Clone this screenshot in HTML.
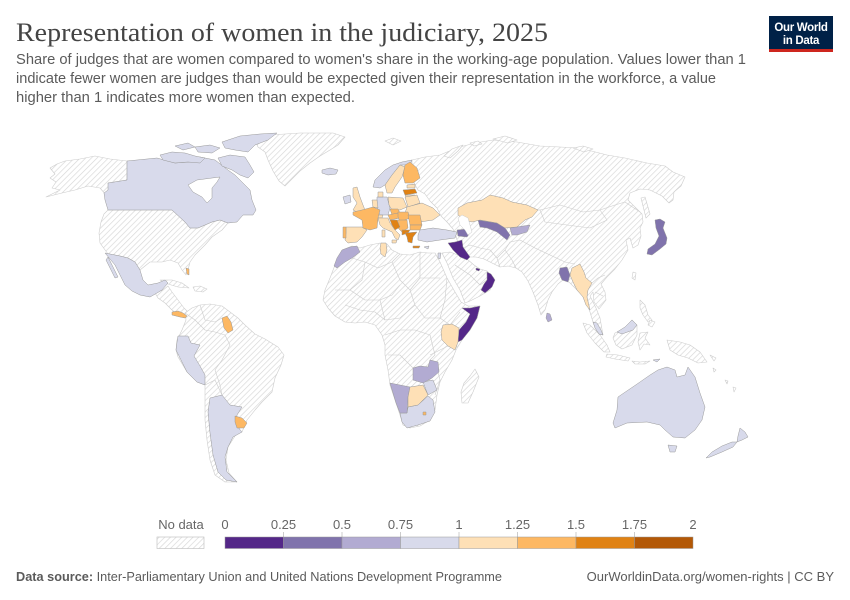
<!DOCTYPE html>
<html>
<head>
<meta charset="utf-8">
<style>
html,body{margin:0;padding:0;background:#fff;}
svg{display:block;}
.t{font-family:"Liberation Sans",sans-serif;}
</style>
</head>
<body>
<svg width="850" height="600" viewBox="0 0 850 600" xmlns="http://www.w3.org/2000/svg">
<defs>
<pattern id="h" width="4" height="4" patternUnits="userSpaceOnUse" patternTransform="rotate(45)">
<rect width="4" height="4" fill="#fff"/>
<line x1="0" y1="0" x2="0" y2="4" stroke="#d6d6d6" stroke-width="1.3"/>
</pattern>
</defs>

<!-- Title -->
<text x="16" y="41" font-family="'Liberation Serif',serif" font-size="26" fill="#444" textLength="532" lengthAdjust="spacingAndGlyphs">Representation of women in the judiciary, 2025</text>
<g class="t" font-size="14.5" fill="#5b5b5b">
<text x="16" y="64" textLength="730" lengthAdjust="spacingAndGlyphs">Share of judges that are women compared to women's share in the working-age population. Values lower than 1</text>
<text x="16" y="83" textLength="700" lengthAdjust="spacingAndGlyphs">indicate fewer women are judges than would be expected given their representation in the workforce, a value</text>
<text x="16" y="102" textLength="339" lengthAdjust="spacingAndGlyphs">higher than 1 indicates more women than expected.</text>
</g>

<!-- Logo -->
<rect x="769" y="16" width="64" height="36" fill="#002147"/>
<rect x="769" y="49" width="64" height="3" fill="#ce261e"/>
<text x="801" y="31" text-anchor="middle" class="t" font-size="11.5" font-weight="bold" fill="#fff" letter-spacing="-0.3">Our World</text>
<text x="801" y="44" text-anchor="middle" class="t" font-size="11.5" font-weight="bold" fill="#fff" letter-spacing="-0.3">in Data</text>

<!-- MAP -->
<g stroke-linejoin="round">
<!-- No data base shapes -->
<g fill="url(#h)" stroke="#cdcdcd" stroke-width="0.6">
<!-- Alaska -->
<path d="M127,161 L110,159 95,156 80,159 65,161 57,164 50,168 55,174 50,178 56,182 52,188 60,190 46,197 62,193 75,190 88,186 100,188 106,195 110,190 108,183 127,180 Z"/>
<!-- Greenland -->
<path d="M255,140 L270,135 300,133 333,133 345,137 338,145 330,150 320,156 310,163 300,171 291,180 285,186 279,181 273,171 268,160 265,152 258,147 Z"/>
<!-- USA -->
<path d="M108,210 L172,210 185,222 190,228 198,228 205,225 212,222 220,220 228,223 222,230 212,237 205,245 200,250 195,255 190,262 188,270 186,275 182,270 178,263 170,260 162,262 150,262 145,266 140,270 135,262 128,258 120,256 108,254 100,243 99,233 101,222 104,214 Z"/>
<!-- Central America -->
<path d="M155,293 L163,290 168,286 172,292 178,300 184,308 190,314 187,318 180,316 172,310 165,303 158,298 Z"/>
<!-- Cuba, Hispaniola -->
<path d="M160,280 L172,280 182,283 189,288 178,287 168,284 Z"/>
<path d="M193,287 L200,286 207,289 203,292 195,291 Z"/>
<!-- South America -->
<path d="M185,313 L192,308 200,305 210,304 222,306 230,312 238,318 245,325 255,334 265,339 278,347 284,355 281,365 275,378 272,392 262,402 255,410 247,420 242,432 237,433 228,447 226,460 229,473 237,482 225,482 215,475 210,460 207,440 205,420 205,400 205,385 197,382 187,372 178,357 176,350 177,340 182,330 186,320 Z"/>
<!-- Africa -->
<path d="M335,265 L342,250 352,246 360,248 370,245 380,243 387,244 392,250 400,254 410,255 420,252 428,253 435,253 440,262 447,278 455,292 461,302 468,306 480,306 477,318 470,330 462,340 456,350 452,360 445,372 440,382 437,395 435,410 430,420 420,426 410,428 403,425 400,415 395,400 390,385 388,370 385,355 385,345 382,335 375,325 365,322 355,323 345,322 335,316 328,308 323,300 325,290 330,278 Z"/>
<!-- Madagascar -->
<path d="M475,369 L479,377 473,392 468,403 462,403 461,392 464,383 470,376 Z"/>
<!-- Arabia -->
<path d="M442,253 L450,252 458,255 467,259 474,265 480,269 487,271 494,278 490,290 480,296 470,301 465,303 460,290 453,278 447,263 Z"/>
<!-- Eurasia (Russia/Asia) -->
<path d="M412,160 L425,157 440,155 447,152 460,147 475,143 493,140 517,142 540,146 560,147 580,148 607,155 625,158 647,163 665,166 673,172 685,177 681,186 674,192 673,200 669,203 662,196 650,190 640,189 630,193 628,200 636,208 642,214 643,222 640,228 641,236 638,245 633,248 630,238 626,240 628,250 622,260 615,269 607,277 601,284 605,292 606,300 599,309 594,302 593,292 590,296 596,308 600,318 603,335 598,334 593,322 590,312 586,302 582,295 576,289 570,283 564,279 558,284 552,292 548,300 545,310 541,315 538,305 533,292 528,281 522,272 516,268 508,266 500,267 492,263 484,259 476,257 470,257 463,248 457,240 456,236 453,229 447,222 441,216 437,208 430,201 425,194 418,190 414,183 417,176 412,168 Z"/>
<!-- Arctic islands -->
<path d="M385,141 L393,138 401,141 393,145 Z"/>
<path d="M444,156 L452,149 463,145 458,151 450,158 Z"/>
<path d="M493,139 L505,136 517,140 508,143 Z"/>
<path d="M573,148 L583,146 593,149 584,152 Z"/>
<path d="M470,143 L478,141 482,144 474,146 Z"/>
<!-- Sakhalin, Taiwan -->
<path d="M641,198 L645,197 650,214 646,218 Z"/>
<path d="M633,272 L636,273 635,280 632,278 Z"/>
<!-- SE Asia islands -->
<path d="M583,323 L590,325 600,335 607,345 610,352 604,352 595,343 587,333 Z"/>
<path d="M607,354 L618,355 630,358 628,361 615,359 606,357 Z"/>
<path d="M615,333 L625,328 632,320 637,325 637,335 632,345 622,349 616,345 613,338 Z"/>
<path d="M640,333 L648,332 645,338 650,345 644,344 640,350 638,342 Z"/>
<path d="M640,300 L645,305 648,315 652,320 648,322 643,315 640,308 Z"/>
<path d="M650,320 L655,322 652,327 648,325 Z"/>
<path d="M667,340 L680,342 690,345 700,352 707,362 698,363 688,358 678,355 670,350 Z"/>
<path d="M632,361 L640,362 650,361 645,364 635,364 Z"/>
<path d="M710,355 L716,358 714,361 Z"/>
<path d="M725,380 L728,381 727,384 Z"/>
<path d="M733,387 L736,388 734,392 Z"/>
<path d="M713,368 L716,370 714,372 Z"/>
</g>

<!-- No data internal borders -->
<g fill="none" stroke="#cdcdcd" stroke-width="0.6">
<path d="M120,256 L108,254"/>
<path d="M200,305 L205,320 215,322 222,318"/>
<path d="M185,313 L195,320 205,330 215,332 225,335 230,345 222,360 215,370 220,385 222,395"/>
<path d="M205,385 L215,380 222,395"/>
<path d="M352,258 L365,262 378,268 392,262 400,254"/>
<path d="M392,262 L400,280 410,290 420,278 420,252"/>
<path d="M420,278 L440,278"/>
<path d="M410,290 L415,305 425,318 440,318 445,300 447,278"/>
<path d="M335,290 L350,290 365,300 380,300 392,295 400,285"/>
<path d="M345,305 L360,310 375,312 385,320 400,318 415,305"/>
<path d="M385,335 L400,330 415,330 430,335 435,355 430,360"/>
<path d="M440,318 L450,325 460,312"/>
<path d="M388,355 L400,355 410,365 413,368"/>
<path d="M430,355 L448,346"/>
<path d="M438,372 L440,380 435,395"/>
<path d="M365,262 L362,280 350,290"/>
<path d="M380,300 L385,320"/>
<path d="M455,265 L470,275 480,285 487,280"/>
<path d="M463,248 L470,245 480,248 490,250 497,258 500,267"/>
<path d="M497,258 L505,250 510,242 520,240"/>
<path d="M505,250 L512,260 516,268"/>
<path d="M520,240 L535,248 550,255 565,262 575,264"/>
<path d="M540,210 L560,205 583,212 600,210 607,220 590,228 567,225 545,222 Z"/>
<path d="M537,210 L540,210"/>
<path d="M600,210 L615,205 625,202 640,212"/>
<path d="M592,283 L598,278 605,275"/>
<path d="M595,292 L603,296"/>
</g>

<!-- Data countries -->
<g stroke="#999" stroke-width="0.5">
<!-- c3 -->
<g fill="#d8daeb">
<path fill-rule="evenodd" d="M127,161 L157,158 175,163 190,162 200,157 215,160 228,170 235,175 240,180 250,190 252,200 256,210 253,215 243,215 237,222 228,223 220,220 212,222 205,225 198,228 190,228 185,222 172,210 108,210 105,200 104,193 108,190 108,183 127,180 Z M188,185 L197,180 212,178 220,177 217,182 212,188 212,198 207,203 202,197 193,192 Z"/>
<path d="M222,142 L240,136 260,134 277,133 268,140 255,145 248,152 235,150 225,148 Z"/>
<path d="M218,158 L230,155 245,157 250,165 254,172 248,178 240,175 232,170 222,166 Z"/>
<path d="M160,155 L172,152 185,153 195,156 205,158 200,163 188,162 175,163 163,160 Z"/>
<path d="M195,147 L210,145 220,148 212,153 198,152 Z"/>
<path d="M175,146 L188,143 195,147 183,150 Z"/>
<path d="M105,253 L120,256 128,258 135,262 140,270 143,280 148,285 158,283 165,280 168,283 162,290 157,293 150,297 140,295 132,291 125,285 120,275 115,265 110,259 Z"/>
<path d="M108,257 L112,265 118,277 115,278 110,268 106,260 Z"/>
<path d="M178,336 L188,336 191,343 200,345 194,356 200,366 205,375 205,385 197,382 187,372 181,360 176,350 177,342 Z"/>
<path d="M210,398 L222,395 230,405 242,407 237,415 236,425 242,432 233,437 228,447 225,457 227,472 237,482 226,480 218,472 213,455 210,433 208,412 Z"/>
<path d="M322,170 L330,168 338,170 336,174 328,175 322,173 Z"/>
<path d="M373,187 L375,180 385,170 393,165 402,162 412,160 410,165 400,165 392,175 385,185 380,188 Z"/>
<path d="M343,197 L350,195 351,202 345,204 Z"/>
<path d="M377,197 L387,197 390,208 388,215 380,215 377,208 Z"/>
<path d="M420,230 L433,228 447,230 457,232 455,238 440,240 427,242 418,240 418,235 Z"/>
<path d="M424,247 L429,246 428,249 Z"/>
<path d="M438,253 L441,253 440,259 438,258 Z"/>
<path d="M423,382 L433,380 437,390 428,395 Z"/>
<path d="M400,413 L407,413 408,407 418,405 428,396 433,400 435,412 430,421 418,425 407,428 402,422 Z"/>
<path d="M593,322 L597,323 601,330 603,335 599,334 595,328 Z"/>
<path d="M617,332 L625,327 632,320 637,325 633,330 622,334 Z"/>
<path d="M618,397 L640,382 650,375 658,370 667,367 675,370 677,377 685,375 688,367 695,377 700,393 705,407 702,420 695,430 685,438 673,437 665,430 660,425 647,422 627,423 615,428 613,423 617,410 Z"/>
<path d="M668,445 L677,446 675,452 670,452 Z"/>
<path d="M740,428 L745,432 748,437 742,440 737,442 738,436 Z"/>
<path d="M737,442 L733,447 722,452 710,457 706,458 712,452 722,446 732,442 Z"/>
<path d="M653,360 L660,359 657,362 Z"/>
</g>
<!-- c2 -->
<g fill="#b2abd2">
<path d="M342,250 L350,247 357,246 360,252 352,258 345,262 337,268 334,266 337,258 Z"/>
<path d="M413,368 L420,366 428,367 430,360 438,362 439,372 432,378 423,383 413,380 Z"/>
<path d="M390,383 L410,387 408,397 407,413 400,413 396,403 393,393 Z"/>
<path d="M510,228 L530,225 527,232 517,235 512,235 Z"/>
<path d="M547,313 L550,314 552,320 548,322 546,318 Z"/>
</g>
<!-- c1 -->
<g fill="#8073ac">
<path d="M457,230 L467,229 470,233 467,237 458,236 Z"/>
<path d="M478,220 L497,223 505,228 510,235 507,240 497,232 487,228 480,227 Z"/>
<path d="M560,268 L567,267 570,275 568,282 562,280 559,273 Z"/>
<path d="M655,220 L660,219 665,222 663,228 667,238 666,244 660,249 652,255 647,254 648,249 655,244 659,236 656,228 Z"/>
</g>
<!-- c0 -->
<g fill="#542788">
<path d="M448,243 L455,242 462,240 463,247 470,257 467,260 460,257 453,250 Z"/>
<path d="M487,272 L491,274 495,280 492,287 485,293 481,290 484,284 487,280 Z"/>
<path d="M476,268 L480,269 479,271 476,270 Z"/>
<path d="M462,308 L470,308 480,306 477,318 470,330 462,340 458,342 459,330 466,322 470,314 Z"/>
</g>
<!-- c4 -->
<g fill="#fee0b6">
<path d="M385,185 L392,175 400,165 405,167 402,177 395,187 392,193 387,193 Z"/>
<path d="M407,185 L415,184 415,188 407,188 Z"/>
<path d="M405,195 L415,195 413,200 407,199 Z"/>
<path d="M378,192 L383,192 383,197 378,197 Z"/>
<path d="M353,188 L357,187 360,197 363,205 365,210 357,212 353,210 357,203 353,197 Z"/>
<path d="M372,200 L377,200 378,208 373,207 Z"/>
<path d="M377,215 L383,215 382,218 377,218 Z"/>
<path d="M388,197 L403,198 407,207 400,210 392,210 389,205 Z"/>
<path d="M405,197 L417,195 420,203 408,207 Z"/>
<path d="M407,207 L422,203 433,208 440,215 433,220 420,222 413,217 405,213 Z"/>
<path d="M378,218 L388,218 390,223 395,230 400,235 398,240 395,238 392,232 383,228 380,225 Z"/>
<path d="M392,240 L397,240 396,243 392,243 Z"/>
<path d="M382,230 L385,230 385,237 382,237 Z"/>
<path d="M346,227 L362,227 367,230 362,237 357,242 348,243 345,240 346,233 Z"/>
<path d="M381,243 L386,243 387,250 385,257 381,254 380,248 Z"/>
<path d="M458,208 L467,203 482,200 490,195 503,198 512,202 527,205 538,210 532,217 525,220 517,227 505,228 497,223 480,220 472,222 465,220 458,215 Z"/>
<path d="M443,325 L452,324 459,328 458,342 455,350 448,346 442,340 441,332 Z"/>
<path d="M410,387 L423,385 428,395 418,405 408,407 408,397 Z"/>
<path d="M572,268 L580,264 584,272 586,278 592,283 588,290 587,297 590,310 586,305 583,297 577,290 573,282 570,275 Z"/>
</g>
<!-- c5 -->
<g fill="#fdb863">
<path d="M405,165 L410,162 417,168 420,178 413,183 405,183 403,175 Z"/>
<path d="M353,212 L362,210 373,207 380,210 378,218 377,228 370,230 363,228 362,220 353,215 Z"/>
<path d="M343,227 L346,227 346,238 343,238 Z"/>
<path d="M390,209 L398,209 400,213 392,215 Z"/>
<path d="M388,215 L398,213 400,218 390,220 Z"/>
<path d="M398,212 L408,212 410,218 400,222 398,217 Z"/>
<path d="M397,220 L407,220 408,228 402,232 398,228 Z"/>
<path d="M408,215 L420,215 422,225 410,225 Z"/>
<path d="M410,225 L422,225 420,230 410,230 Z"/>
<path d="M172,312 L178,311 183,313 187,316 185,318 180,317 176,316 172,315 Z"/>
<path d="M186,268 L189,269 189,275 187,274 Z"/>
<path d="M222,318 L227,316 231,322 233,330 228,333 224,328 Z"/>
<path d="M235,416 L242,418 247,423 244,428 237,428 235,422 Z"/>
<path d="M423,412 L426,412 426,415 423,415 Z"/>
</g>
<!-- c6 -->
<g fill="#e08214">
<path d="M403,190 L415,189 417,193 405,195 Z"/>
<path d="M390,220 L397,220 400,227 395,230 392,225 Z"/>
<path d="M402,230 L410,230 408,233 402,235 Z"/>
<path d="M405,233 L417,232 413,237 412,243 408,242 407,237 Z"/>
<path d="M413,246 L420,246 419,248 413,248 Z"/>
</g>
</g>
<!-- Caspian -->
<path d="M462,215 L468,218 470,225 472,232 468,235 465,230 460,225 458,218 Z" fill="#fff" stroke="#cdcdcd" stroke-width="0.5"/>
</g>

<!-- Legend -->
<g class="t" font-size="13" fill="#666" text-anchor="middle">
<text x="181" y="529">No data</text>
<text x="225" y="529">0</text>
<text x="283.5" y="529">0.25</text>
<text x="342" y="529">0.5</text>
<text x="400.5" y="529">0.75</text>
<text x="459" y="529">1</text>
<text x="517.5" y="529">1.25</text>
<text x="576" y="529">1.5</text>
<text x="634.5" y="529">1.75</text>
<text x="693" y="529">2</text>
</g>
<rect x="157" y="537" width="47" height="11.5" fill="url(#h)" stroke="#bbb" stroke-width="0.6"/>
<g stroke="#999" stroke-width="0.5">
<rect x="225" y="537" width="58.5" height="11.5" fill="#542788"/>
<rect x="283.5" y="537" width="58.5" height="11.5" fill="#8073ac"/>
<rect x="342" y="537" width="58.5" height="11.5" fill="#b2abd2"/>
<rect x="400.5" y="537" width="58.5" height="11.5" fill="#d8daeb"/>
<rect x="459" y="537" width="58.5" height="11.5" fill="#fee0b6"/>
<rect x="517.5" y="537" width="58.5" height="11.5" fill="#fdb863"/>
<rect x="576" y="537" width="58.5" height="11.5" fill="#e08214"/>
<rect x="634.5" y="537" width="58.5" height="11.5" fill="#b35806"/>
</g>
<g stroke="#aaa" stroke-width="0.6">
<line x1="283.5" y1="532" x2="283.5" y2="537"/>
<line x1="342" y1="532" x2="342" y2="537"/>
<line x1="400.5" y1="532" x2="400.5" y2="537"/>
<line x1="459" y1="532" x2="459" y2="537"/>
<line x1="517.5" y1="532" x2="517.5" y2="537"/>
<line x1="576" y1="532" x2="576" y2="537"/>
<line x1="634.5" y1="532" x2="634.5" y2="537"/>
</g>

<!-- Footer -->
<text x="16" y="581" class="t" font-size="13" fill="#5b5b5b" textLength="486" lengthAdjust="spacingAndGlyphs"><tspan font-weight="bold">Data source:</tspan> Inter-Parliamentary Union and United Nations Development Programme</text>
<text x="834" y="581" class="t" font-size="13" fill="#5b5b5b" text-anchor="end">OurWorldinData.org/women-rights | CC BY</text>
</svg>
</body>
</html>
